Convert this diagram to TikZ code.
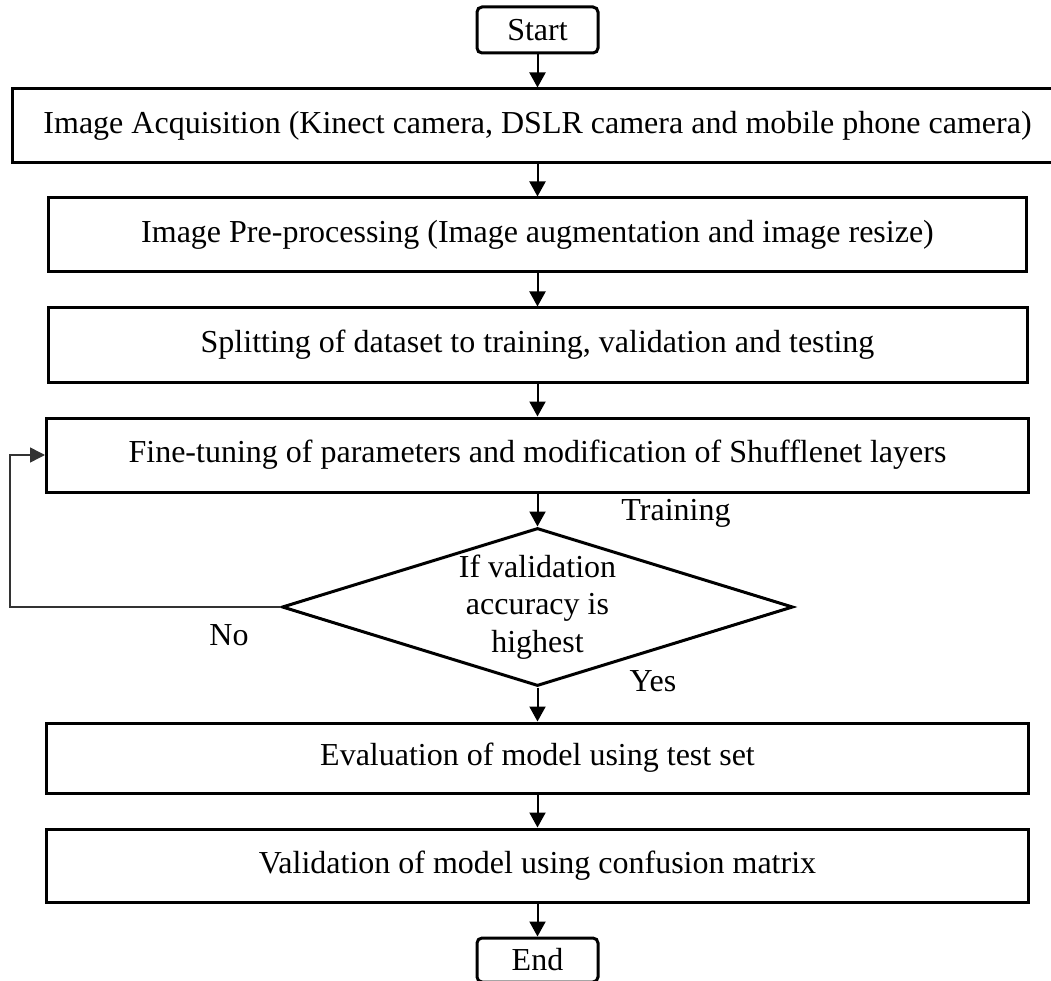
\documentclass[tikz,border=0pt]{standalone}
\usepackage{fontspec}
\setmainfont{Liberation Serif}
\usetikzlibrary{arrows.meta,shapes.geometric}

\begin{document}
\begin{tikzpicture}[x=1pt,y=-1pt,every node/.style={font=\fontsize{32}{37.5}\selectfont}]

\tikzset{terminal/.style = {shape=rectangle,draw,line width=3pt,rounded corners=5pt,minimum width=121pt,minimum height=46pt,inner sep=0pt}}
\tikzset{process/.style = {shape=rectangle,draw,line width=3pt,minimum width=981pt,minimum height=74pt,inner sep=0pt}}
\tikzset{decision/.style = {shape=diamond,draw,line width=3pt,minimum width=511pt,minimum height=158pt,inner sep=0pt}}
\tikzset{edge/.style = {->,> = {Triangle[length=15pt,width=16pt]},line width=2pt}}
\tikzset{back/.style = {->,> = {Triangle[length=15pt,width=15pt]},line width=1.5pt,black!80}}
\useasboundingbox (0,0) rectangle (1051,981);
% vertices
\node[terminal] (Start) at (537.5,30) {Start};
\node[process,minimum width=1050pt] (Acquisition) at (537.5,126) {Image Acquisition (Kinect camera, DSLR camera and mobile phone camera)};
\node[process,minimum width=978pt] (Preprocess) at (537.5,235) {Image Pre-processing (Image augmentation and image resize)};
\node[process,minimum width=979pt] (Split) at (537.5,345) {Splitting of dataset to training, validation and testing};
\node[process,minimum width=982pt] (Tune) at (537.5,455) {Fine-tuning of parameters and modification of Shufflenet layers};
\node[decision] (Check) at (537.5,607) {};
\node[align=center] (CheckText) at (Check.center) {If validation\\accuracy is\\highest};
\node[process,minimum width=982pt,minimum height=70pt] (Evaluate) at (537.5,758) {Evaluation of model using test set};
\node[process,minimum width=982pt,minimum height=73pt] (Validate) at (537.5,865.5) {Validation of model using confusion matrix};
\node[terminal,minimum height=44pt] (End) at (537.5,960) {End};
% labels
\node (Training) at (676,513) {Training};
\node (Yes) at (653,681) {Yes};
\node (No) at (229,635) {No};
\coordinate (LoopCorner) at (10,607);
%edges
\draw[edge] (Start) to (Acquisition);
\draw[edge] (Acquisition) to (Preprocess);
\draw[edge] (Preprocess) to (Split);
\draw[edge] (Split) to (Tune);
\draw[edge] (Tune) to (Check);
\draw[edge] (Check) to (Evaluate);
\draw[edge] (Evaluate) to (Validate);
\draw[edge] (Validate) to (End);
\draw[back] (Check.west) -- (LoopCorner) |- (Tune.west);
\end{tikzpicture}
\end{document}
